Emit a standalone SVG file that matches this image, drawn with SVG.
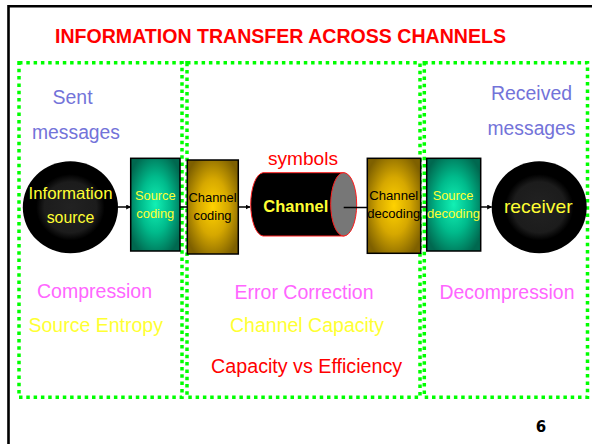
<svg xmlns="http://www.w3.org/2000/svg" width="592" height="444" viewBox="0 0 592 444">
<style>
text{font-family:"Liberation Sans",Arial,sans-serif;text-anchor:middle}
.zone{fill:none;stroke:#00FF00;stroke-width:3.5;stroke-dasharray:3.5 3.8}
.lbl{font-size:19.5px}
.blue{fill:#7373D9}
.pink{fill:#FF66FF}
.yel{fill:#FFFF33}
.red{fill:#FF0000}
.box{stroke:#000;stroke-width:1.5}
.small{font-size:13px}
.con{stroke:#000;stroke-width:1.5;fill:none}
</style>
<defs>
<radialGradient id="disc" cx="0.5" cy="0.5" r="0.5">
<stop offset="0" stop-color="#222"/>
<stop offset="0.55" stop-color="#1c1c1c"/>
<stop offset="0.72" stop-color="#000"/>
<stop offset="1" stop-color="#000"/>
</radialGradient>
<radialGradient id="teal" cx="0.5" cy="0.5" r="0.6">
<stop offset="0" stop-color="#12F0B4"/>
<stop offset="0.5" stop-color="#00BB8C"/>
<stop offset="1" stop-color="#00684F"/>
</radialGradient>
<radialGradient id="gold" cx="0.5" cy="0.5" r="0.6">
<stop offset="0" stop-color="#FFD200"/>
<stop offset="0.5" stop-color="#D6A800"/>
<stop offset="1" stop-color="#7E6000"/>
</radialGradient>
<marker id="arr" viewBox="0 0 10 10" refX="9" refY="5" markerWidth="5" markerHeight="5" orient="auto" markerUnits="userSpaceOnUse">
<path d="M0,0 L10,5 L0,10 Z" fill="#000"/>
</marker>
</defs>

<path d="M8.5,444 V6.2 H592" fill="none" stroke="#000" stroke-width="2.6"/>

<text id="title" x="55" y="43" style="text-anchor:start;font-weight:bold;font-size:19.5px" class="red" textLength="451" lengthAdjust="spacingAndGlyphs">INFORMATION TRANSFER ACROSS CHANNELS</text>

<g id="zones">
<rect class="zone" x="19" y="62.8" width="163" height="334.5"/>
<rect class="zone" x="187" y="62.8" width="233" height="334.5"/>
<rect class="zone" x="424.3" y="62.8" width="163.2" height="334.5"/>
</g>

<g id="labels">
<text class="lbl blue" x="72.6" y="104" textLength="40" lengthAdjust="spacingAndGlyphs">Sent</text>
<text class="lbl blue" x="76" y="139.3" textLength="88" lengthAdjust="spacingAndGlyphs">messages</text>
<text class="lbl blue" x="531.5" y="100" textLength="81" lengthAdjust="spacingAndGlyphs">Received</text>
<text class="lbl blue" x="531.5" y="135" textLength="88" lengthAdjust="spacingAndGlyphs">messages</text>
<text class="red" x="303" y="165" style="font-size:18.5px" textLength="70" lengthAdjust="spacingAndGlyphs">symbols</text>
<text class="lbl pink" x="94.5" y="298.3" textLength="115" lengthAdjust="spacingAndGlyphs">Compression</text>
<text class="lbl yel" x="95.7" y="331.7" textLength="134.5" lengthAdjust="spacingAndGlyphs">Source Entropy</text>
<text class="lbl pink" x="304" y="299.3" textLength="139" lengthAdjust="spacingAndGlyphs">Error Correction</text>
<text class="lbl yel" x="307" y="331.7" textLength="154" lengthAdjust="spacingAndGlyphs">Channel Capacity</text>
<text class="lbl red" x="306.6" y="373.3" textLength="191" lengthAdjust="spacingAndGlyphs">Capacity vs Efficiency</text>
<text class="lbl pink" x="507" y="299.3" textLength="135" lengthAdjust="spacingAndGlyphs">Decompression</text>
<text x="541" y="432" style="font-family:'DejaVu Sans',Verdana,sans-serif;font-weight:bold;font-size:15px" fill="#000">6</text>
</g>

<g id="connectors">
<line class="con" x1="117.5" y1="207" x2="130.7" y2="207" marker-end="url(#arr)"/>
<line class="con" x1="180" y1="207" x2="187.3" y2="207"/>
<line class="con" x1="238.3" y1="207" x2="250" y2="207" marker-end="url(#arr)"/>
<line class="con" x1="420.7" y1="207" x2="426.7" y2="207"/>
<line class="con" x1="480.7" y1="207" x2="491.7" y2="207" marker-end="url(#arr)"/>
</g>

<g id="information-source">
<ellipse cx="70.4" cy="207.3" rx="47.6" ry="46" fill="url(#disc)"/>
<text class="yel" x="70.5" y="199.3" style="font-size:16.5px" textLength="84" lengthAdjust="spacingAndGlyphs">Information</text>
<text class="yel" x="70.5" y="222.7" style="font-size:16.5px" textLength="47.6" lengthAdjust="spacingAndGlyphs">source</text>
</g>

<g id="source-coding">
<rect class="box" x="130.7" y="158.3" width="49.3" height="92.7" fill="url(#teal)"/>
<text class="small yel" x="155.3" y="200" textLength="40.7" lengthAdjust="spacingAndGlyphs">Source</text>
<text class="small yel" x="155.3" y="218.3" textLength="38" lengthAdjust="spacingAndGlyphs">coding</text>
</g>

<g id="channel-coding">
<rect class="box" x="187.3" y="160" width="51" height="94" fill="url(#gold)"/>
<text class="small" x="212.5" y="201.7" fill="#000" textLength="48" lengthAdjust="spacingAndGlyphs">Channel</text>
<text class="small" x="212.5" y="220" fill="#000" textLength="38" lengthAdjust="spacingAndGlyphs">coding</text>
</g>

<g id="channel">
<path d="M263,172.7 H343.7 A13,31.7 0 0 1 343.7,236 H263 A13,31.7 0 0 1 263,172.7 Z" fill="#000" stroke="#FF2020" stroke-width="1"/>
<ellipse cx="343.7" cy="204.35" rx="13" ry="31.65" fill="#777" stroke="#FF2020" stroke-width="1"/>
<text class="yel" x="295.8" y="211.7" style="font-size:16.5px;font-weight:bold" textLength="65" lengthAdjust="spacingAndGlyphs">Channel</text>
<line class="con" x1="343.7" y1="207.5" x2="367.3" y2="207.5"/>
</g>

<g id="channel-decoding">
<rect class="box" x="367.3" y="158.3" width="53.4" height="95" fill="url(#gold)"/>
<text class="small" x="393.7" y="200" fill="#000" textLength="49" lengthAdjust="spacingAndGlyphs">Channel</text>
<text class="small" x="393.7" y="218.3" fill="#000" textLength="53" lengthAdjust="spacingAndGlyphs">decoding</text>
</g>

<g id="source-decoding">
<rect class="box" x="426.7" y="158.3" width="54" height="92.7" fill="url(#teal)"/>
<text class="small yel" x="453" y="200" textLength="40.7" lengthAdjust="spacingAndGlyphs">Source</text>
<text class="small yel" x="453.5" y="218.3" textLength="53" lengthAdjust="spacingAndGlyphs">decoding</text>
</g>

<g id="receiver">
<ellipse cx="539.2" cy="207.3" rx="47.5" ry="46" fill="url(#disc)"/>
<text class="yel" x="538.3" y="212.7" style="font-size:19px" textLength="68.7" lengthAdjust="spacingAndGlyphs">receiver</text>
</g>
</svg>
